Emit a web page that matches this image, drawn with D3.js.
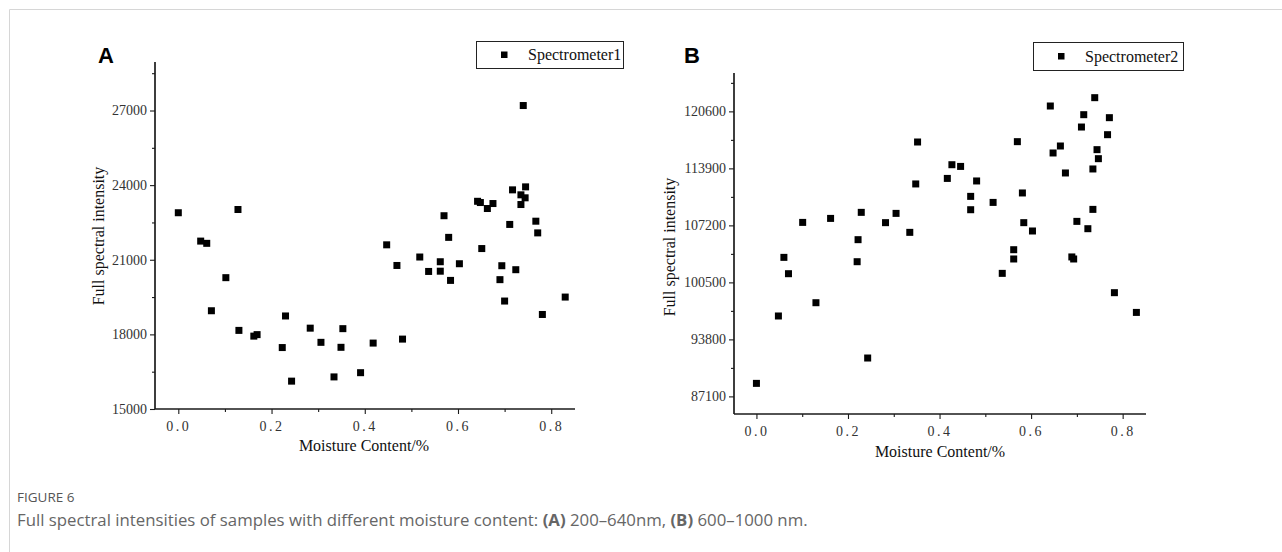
<!DOCTYPE html>
<html>
<head>
<meta charset="utf-8">
<script src="https://cdn.jsdelivr.net/npm/d3@7"></script>
<style>
  html, body { margin: 0; padding: 0; background: #fff; }
  svg { display: block; }
</style>
</head>
<body>
<svg id="fig" width="1282" height="552"></svg>
<script>
// Panel A: 200–640 nm spectrometer
const moistureA = [0.000, 0.048, 0.061, 0.128, 0.447, 0.518, 0.570, 0.580, 0.651, 0.642,
  0.648, 0.663, 0.675, 0.711, 0.717, 0.740, 0.735, 0.735, 0.744, 0.745,
  0.767, 0.771, 0.562, 0.469, 0.537, 0.562, 0.584, 0.603, 0.694, 0.690,
  0.700, 0.724, 0.781, 0.830, 0.102, 0.071, 0.130, 0.162, 0.169, 0.230,
  0.223, 0.243, 0.283, 0.306, 0.353, 0.349, 0.334, 0.391, 0.418, 0.481];
const intensityA = [22890, 21750, 21660, 23020, 21600, 21110, 22770, 21900, 21450, 23350,
  23300, 23060, 23260, 22420, 23810, 27200, 23610, 23220, 23490, 23930,
  22550, 22080, 20920, 20770, 20530, 20540, 20170, 20840, 20760, 20200,
  19340, 20600, 18800, 19500, 20280, 18950, 18160, 17930, 17990, 18740,
  17470, 16120, 18250, 17680, 18230, 17480, 16290, 16460, 17650, 17810];

// Panel B: 600–1000 nm spectrometer
const moistureB = [0.739, 0.642, 0.715, 0.771, 0.710, 0.767, 0.352, 0.570, 0.664, 0.648,
  0.744, 0.747, 0.735, 0.675, 0.427, 0.446, 0.417, 0.481, 0.348, 0.581,
  0.468, 0.517, 0.468, 0.735, 0.229, 0.305, 0.162, 0.101, 0.282, 0.584,
  0.700, 0.603, 0.724, 0.335, 0.222, 0.562, 0.562, 0.060, 0.220, 0.689,
  0.693, 0.070, 0.537, 0.130, 0.782, 0.048, 0.830, 0.243, 0.000];
const intensityB = [122210, 121230, 120210, 119860, 118760, 117860, 117000, 117040, 116530, 115710,
  116100, 115040, 113830, 113360, 114330, 114130, 112720, 112420, 112070, 111010,
  110610, 109900, 109040, 109080, 108730, 108610, 108020, 107550, 107520, 107520,
  107670, 106540, 106810, 106380, 105520, 104340, 103250, 103440, 102930, 103490,
  103250, 101520, 101560, 98110, 99290, 96550, 96970, 91610, 88630];

const xTicks = [0, 0.2, 0.4, 0.6, 0.8];
const xMinor = [0.1, 0.3, 0.5, 0.7];
const yTicksA = [15000, 18000, 21000, 24000, 27000];
const yMinorA = [16500, 19500, 22500, 25500, 28500];
const yTicksB = [87100, 93800, 100500, 107200, 113900, 120600];
const yMinorB = [90450, 97150, 103850, 110550, 117250, 123950];

const svg = d3.select("#fig");
const ink = "#1a1a1a";
const serif = "'Liberation Serif', 'Times New Roman', serif";

// Page frame lines (top and left)
svg.append("line").attr("x1", 9.5).attr("y1", 9.5).attr("x2", 1282).attr("y2", 9.5)
  .attr("stroke", "#d6d6d6").attr("stroke-width", 1);
svg.append("line").attr("x1", 9.5).attr("y1", 9.5).attr("x2", 9.5).attr("y2", 552)
  .attr("stroke", "#d6d6d6").attr("stroke-width", 1);

function panel(cfg) {
  const g = svg.append("g");
  const x = d3.scaleLinear().domain(cfg.xDomain).range([cfg.left, cfg.right]);
  const y = d3.scaleLinear().domain(cfg.yDomain).range([cfg.bottom, cfg.top]);

  // x axis
  const xa = g.append("g").attr("transform", `translate(0,${cfg.bottom})`)
    .call(d3.axisBottom(x).tickValues(xTicks).tickSize(5).tickPadding(7)
      .tickFormat(d3.format(".1f")));
  const xm = g.append("g").attr("transform", `translate(0,${cfg.bottom})`)
    .call(d3.axisBottom(x).tickValues(xMinor).tickSize(3).tickFormat(""));
  // y axis
  const ya = g.append("g").attr("transform", `translate(${cfg.left},0)`)
    .call(d3.axisLeft(y).tickValues(cfg.yTicks).tickSize(5).tickPadding(3)
      .tickFormat(d3.format("d")));
  const ym = g.append("g").attr("transform", `translate(${cfg.left},0)`)
    .call(d3.axisLeft(y).tickValues(cfg.yMinor).tickSize(3).tickFormat(""));

  [xa, xm, ya, ym].forEach(a => {
    a.select(".domain").attr("stroke", ink).attr("stroke-width", 1.2)
      .attr("d", a === xa || a === xm
        ? `M${cfg.left},0H${cfg.right}` : `M0,${cfg.bottom}V${cfg.top}`);
    a.selectAll(".tick line").attr("stroke", ink).attr("stroke-width", 1.1);
    a.selectAll("text").attr("font-family", serif).attr("font-size", 14)
      .attr("fill", "#333");
  });
  xa.selectAll("text").attr("letter-spacing", "2.5px");

  // axis titles
  g.append("text").attr("x", (cfg.left + cfg.right) / 2 + cfg.xTitleDx).attr("y", cfg.bottom + cfg.xTitleDy)
    .attr("text-anchor", "middle").attr("font-family", serif).attr("font-size", 16)
    .attr("fill", "#111").text("Moisture Content/%");
  g.append("text")
    .attr("transform", `translate(${cfg.yTitleX},${cfg.yTitleY}) rotate(-90)`)
    .attr("text-anchor", "middle").attr("font-family", serif).attr("font-size", 16)
    .attr("fill", "#111").text("Full spectral intensity");

  // points
  const s = 7;
  g.append("g").selectAll("rect").data(cfg.xs.map((v, i) => [v, cfg.ys[i]])).join("rect")
    .attr("x", d => x(d[0]) - s / 2).attr("y", d => y(d[1]) - s / 2)
    .attr("width", s).attr("height", s).attr("fill", "#000");

  // legend
  const lg = g.append("g");
  lg.append("rect").attr("x", cfg.legend[0] + 0.5).attr("y", cfg.legend[1] + 0.5)
    .attr("width", cfg.legend[2]).attr("height", cfg.legend[3])
    .attr("fill", "#fff").attr("stroke", "#222").attr("stroke-width", 1);
  lg.append("rect").attr("x", cfg.legend[0] + 25).attr("y", cfg.legend[1] + cfg.legend[3] / 2 - 3)
    .attr("width", 6.5).attr("height", 6.5).attr("fill", "#000");
  lg.append("text").attr("x", cfg.legend[0] + 52).attr("y", cfg.legend[1] + cfg.legend[3] / 2 + 5.5)
    .attr("font-family", serif).attr("font-size", 16).attr("fill", "#111").text(cfg.name);

  // panel letter
  g.append("text").attr("x", cfg.letter[0]).attr("y", cfg.letter[1])
    .attr("font-family", "'Liberation Sans', Arial, sans-serif").attr("font-weight", "bold")
    .attr("font-size", 22).attr("fill", "#000").text(cfg.letterText);
}

panel({
  xs: moistureA, ys: intensityA,
  xDomain: [-0.05, 0.851], yDomain: [15000, 28950],
  left: 155, right: 575, top: 62, bottom: 409,
  yTicks: yTicksA, yMinor: yMinorA,
  xTitleDx: -1, xTitleDy: 42, yTitleX: 104, yTitleY: 236,
  legend: [476, 41, 147, 27], name: "Spectrometer1",
  letter: [98, 63], letterText: "A"
});

panel({
  xs: moistureB, ys: intensityB,
  xDomain: [-0.049, 0.851], yDomain: [85030, 125110],
  left: 734, right: 1146, top: 73, bottom: 414,
  yTicks: yTicksB, yMinor: yMinorB,
  xTitleDx: 0, xTitleDy: 43, yTitleX: 675, yTitleY: 247,
  legend: [1033, 42, 150, 28], name: "Spectrometer2",
  letter: [684, 63], letterText: "B"
});

// Caption
const sans = "'Open Sans', 'Noto Sans', sans-serif";
svg.append("text").attr("x", 17).attr("y", 502).attr("font-family", sans)
  .attr("font-size", 13.5).attr("fill", "#555").text("FIGURE 6");
const cap = svg.append("text").attr("x", 17).attr("y", 526).attr("font-family", sans)
  .attr("font-size", 16.8).attr("fill", "#666");
cap.append("tspan").text("Full spectral intensities of samples with different moisture content: ");
cap.append("tspan").attr("font-weight", "bold").text("(A)");
cap.append("tspan").text(" 200–640nm, ");
cap.append("tspan").attr("font-weight", "bold").text("(B)");
cap.append("tspan").text(" 600–1000 nm.");
</script>
</body>
</html>
